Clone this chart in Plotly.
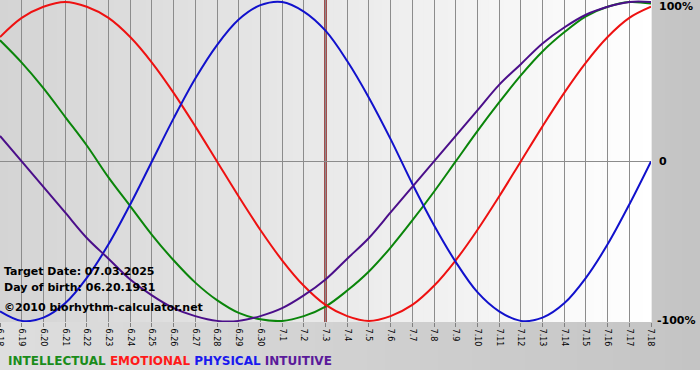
import plotly.graph_objects as go

# ---- data ----
dates = ["6.18", "6.19", "6.20", "6.21", "6.22", "6.23", "6.24", "6.25", "6.26", "6.27",
         "6.28", "6.29", "6.30", "7.1", "7.2", "7.3", "7.4", "7.5", "7.6", "7.7",
         "7.8", "7.9", "7.10", "7.11", "7.12", "7.13", "7.14", "7.15", "7.16", "7.17", "7.18"]

intellectual = [0.76, 0.62, 0.46, 0.28, 0.10, -0.10, -0.28, -0.46, -0.62, -0.76,
                -0.87, -0.95, -0.99, -1.00, -0.97, -0.91, -0.81, -0.69, -0.54, -0.37,
                -0.19, 0.00, 0.19, 0.37, 0.54, 0.69, 0.81, 0.91, 0.97, 1.00, 0.99]
emotional = [0.78, 0.90, 0.97, 1.00, 0.97, 0.90, 0.78, 0.62, 0.43, 0.22,
             0.00, -0.22, -0.43, -0.62, -0.78, -0.90, -0.97, -1.00, -0.97, -0.90,
             -0.78, -0.62, -0.43, -0.22, 0.00, 0.22, 0.43, 0.62, 0.78, 0.90, 0.97]
physical = [-0.94, -1.00, -0.98, -0.89, -0.73, -0.52, -0.27, 0.00, 0.27, 0.52,
            0.73, 0.89, 0.98, 1.00, 0.94, 0.82, 0.63, 0.40, 0.14, -0.14,
            -0.40, -0.63, -0.82, -0.94, -1.00, -0.98, -0.89, -0.73, -0.52, -0.27, 0.00]
intuitive = [0.16, 0.00, -0.16, -0.32, -0.48, -0.61, -0.74, -0.84, -0.92, -0.97,
             -1.00, -1.00, -0.97, -0.92, -0.84, -0.74, -0.61, -0.48, -0.32, -0.16,
             0.00, 0.16, 0.32, 0.48, 0.61, 0.74, 0.84, 0.92, 0.97, 1.00, 1.00]

target_date = "7.3"
info_lines = ["Target Date: 07.03.2025", "Day of birth: 06.20.1931", "\u00a92010 biorhythm-calculator.net"]
right_vals = [1, 0, -1]
right_labels = ["100%", "0", "-100%"]
series_names = ["INTELLECTUAL", "EMOTIONAL", "PHYSICAL", "INTUITIVE"]

# ---- styles ----
line_colors = ["#0a850a", "#ee1111", "#1111cc", "#4b0f8a"]
legend_colors = ["#1a8c1a", "#ff1a1a", "#1a1aee", "#5a1a9a"]
FONT = "DejaVu Sans"
W, H = 700, 380
ML, MR, MT, MB = 0, 49, 0, 58
PW, PH = W - ML - MR, H - MT - MB

fig = go.Figure()
for name, vals, col in zip(series_names, [intellectual, emotional, physical, intuitive], line_colors):
    fig.add_trace(go.Scatter(x=dates, y=vals, mode="lines", name=name,
                             line=dict(color=col, width=2, shape="spline", smoothing=1.0),
                             showlegend=False, hoverinfo="skip"))

shapes = []
# outer background gradient (paper)
n_out = 40
x_end = W / PW
y_bot = -(370 - PH) / PH
for i in range(n_out):
    t = (i + 0.5) / n_out
    c = int(round(222 + (196 - 222) * t))
    shapes.append(dict(type="rect", xref="paper", yref="paper",
                       x0=x_end * i / n_out, x1=x_end * (i + 1) / n_out + 0.002,
                       y0=y_bot, y1=1.0, fillcolor=f"rgb({c},{c},{c})",
                       line=dict(width=0), layer="below"))
# plot area gradient
n_in = 80
for i in range(n_in):
    t = (i + 0.5) / n_in
    c = int(round(212 + (255 - 212) * t))
    shapes.append(dict(type="rect", xref="paper", yref="paper",
                       x0=i / n_in, x1=(i + 1) / n_in + 0.001,
                       y0=0, y1=1, fillcolor=f"rgb({c},{c},{c})",
                       line=dict(width=0), layer="below"))
# target date line
shapes.append(dict(type="line", xref="x", yref="paper",
                   x0=dates.index(target_date), x1=dates.index(target_date), y0=0, y1=1,
                   line=dict(color="#8b1a1a", width=2.5), layer="between"))

annotations = []
info_y = [271, 287, 307]
for txt, py in zip(info_lines, info_y):
    annotations.append(dict(text=f"<b>{txt}</b>", xref="paper", yref="paper",
                            x=0, y=(PH - py) / PH, xanchor="left", yanchor="middle",
                            xshift=2, showarrow=False,
                            font=dict(family=FONT, size=11, color="black")))
for v, lab in zip(right_vals, right_labels):
    annotations.append(dict(text=f"<b>{lab}</b>", xref="paper", yref="y",
                            x=1, y=v, xanchor="left", yanchor="middle",
                            xshift=6 if lab != "-100%" else 4,
                            yshift=-4.5 if v == 1 else 0, showarrow=False,
                            font=dict(family=FONT, size=11, color="black")))
legend_html = " ".join(f"<span style='color:{c}'>{n}</span>" for n, c in zip(series_names, legend_colors))
annotations.append(dict(text=f"<b>{legend_html}</b>", xref="paper", yref="paper",
                        x=0, y=(PH - 361) / PH, xanchor="left", yanchor="middle",
                        xshift=6, showarrow=False,
                        font=dict(family=FONT, size=12)))

fig.update_layout(
    width=W, height=H,
    margin=dict(l=ML, r=MR, t=MT, b=MB, pad=0, autoexpand=False),
    paper_bgcolor="white", plot_bgcolor="rgba(0,0,0,0)",
    shapes=shapes, annotations=annotations,
    xaxis=dict(type="category", range=[0, len(dates) - 1], showgrid=True,
               gridcolor="#8c8c8c", gridwidth=1, ticks="outside", ticklen=4,
               tickcolor="#808080", tickangle=90, showline=False, zeroline=False,
               automargin=False,
               tickfont=dict(family=FONT, size=8, color="black"), fixedrange=True),
    yaxis=dict(range=[-1.007, 1.0125], showgrid=False, zeroline=True,
               zerolinecolor="#8c8c8c", zerolinewidth=1, showticklabels=False,
               automargin=False,
               ticks="", showline=False, fixedrange=True),
)

fig.write_html("out.html", config={"displayModeBar": False},
               post_script="document.body.style.margin='0';document.body.style.padding='0';")
